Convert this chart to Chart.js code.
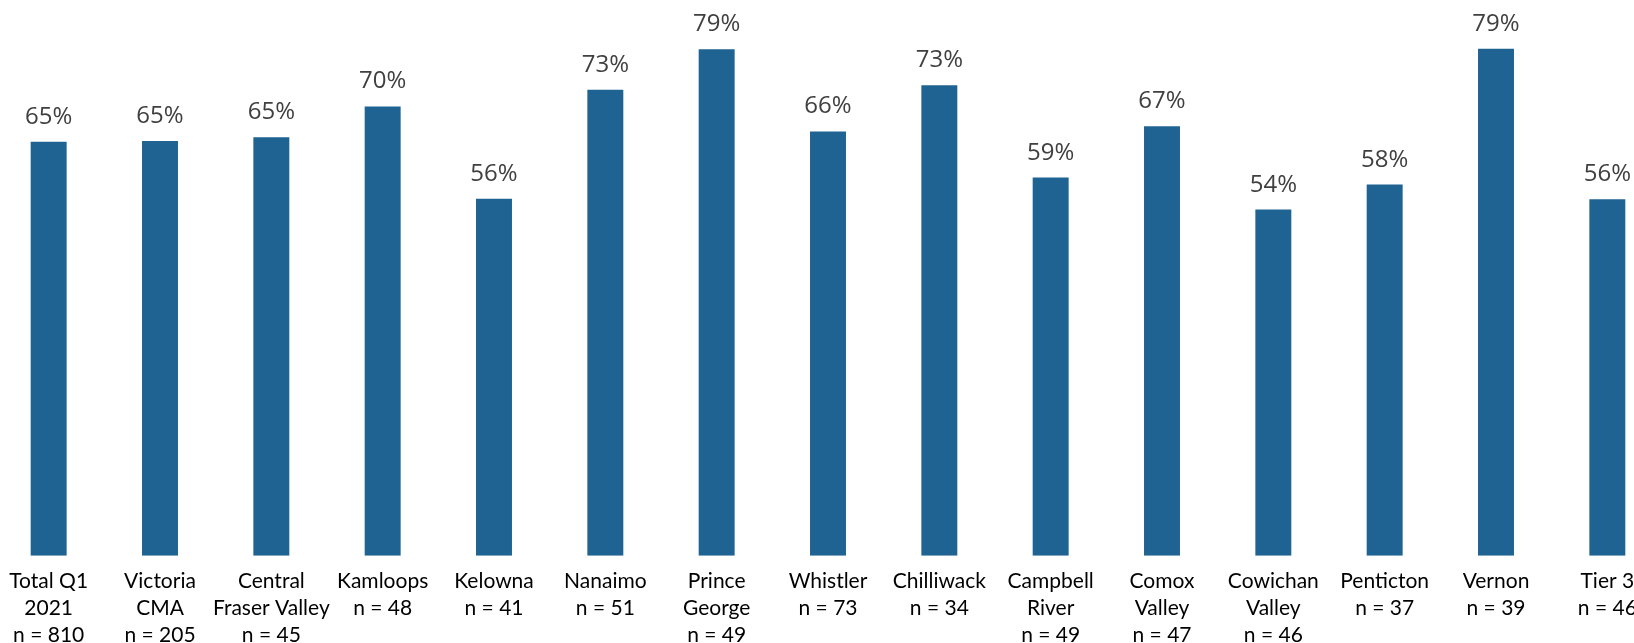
<!DOCTYPE html>
<html>
<head>
<meta charset="utf-8">
<script src="https://cdn.jsdelivr.net/npm/chart.js@4/dist/chart.umd.min.js"></script>
<style>
    html, body { margin: 0; padding: 0; background: #fff; overflow: hidden; }
    #wrap { position: relative; width: 1634px; height: 643px; overflow: hidden; }
    #chart { position: absolute; left: -7px; top: 0; }
</style>
</head>
<body>
<div id="wrap">
    <canvas id="chart" width="1670" height="661"></canvas>
</div>
<script>
// category names (one entry per line of the label)
const categoryNames = [
    ['Total Q1', '2021'],
    ['Victoria', 'CMA'],
    ['Central', 'Fraser Valley'],
    ['Kamloops'],
    ['Kelowna'],
    ['Nanaimo'],
    ['Prince', 'George'],
    ['Whistler'],
    ['Chilliwack'],
    ['Campbell', 'River'],
    ['Comox', 'Valley'],
    ['Cowichan', 'Valley'],
    ['Penticton'],
    ['Vernon'],
    ['Tier 3']
];
const sampleSizes = [810, 205, 45, 48, 41, 51, 49, 73, 34, 49, 47, 46, 37, 39, 46];
const percentValues = [64.6, 64.7, 65.3, 70.1, 55.7, 72.7, 79.0, 66.2, 73.4, 59.0, 67.0, 54.0, 57.9, 79.1, 55.6];

const labels = categoryNames.map((name, i) => name.concat(['n = ' + sampleSizes[i]]));

// simple value labels above each bar
const valueLabels = {
    id: 'valueLabels',
    afterDatasetsDraw(chart) {
        const ctx = chart.ctx;
        const meta = chart.getDatasetMeta(0);
        ctx.save();
        ctx.font = '24px "Open Sans"';
        ctx.fillStyle = '#404040';
        ctx.textAlign = 'center';
        ctx.textBaseline = 'alphabetic';
        meta.data.forEach((bar, i) => {
            const value = chart.data.datasets[0].data[i];
            ctx.fillText(Math.round(value) + '%', bar.x, bar.y - 18);
        });
        ctx.restore();
    }
};

new Chart(document.getElementById('chart'), {
    type: 'bar',
    data: {
        labels: labels,
        datasets: [{
            data: percentValues,
            backgroundColor: '#1F6392',
            borderWidth: 0,
            barPercentage: 0.323,
            categoryPercentage: 1
        }]
    },
    options: {
        responsive: false,
        animation: false,
        layout: { padding: 0 },
        plugins: {
            legend: { display: false },
            tooltip: { enabled: false }
        },
        scales: {
            x: {
                grid: { display: false, drawTicks: false },
                border: { display: false },
                ticks: {
                    autoSkip: false,
                    maxRotation: 0,
                    minRotation: 0,
                    padding: 12,
                    color: '#000',
                    font: { family: 'Lato', size: 21, lineHeight: 1.29 }
                }
            },
            y: {
                display: false,
                min: 0,
                max: 86.7
            }
        }
    },
    plugins: [valueLabels]
});
</script>
</body>
</html>
